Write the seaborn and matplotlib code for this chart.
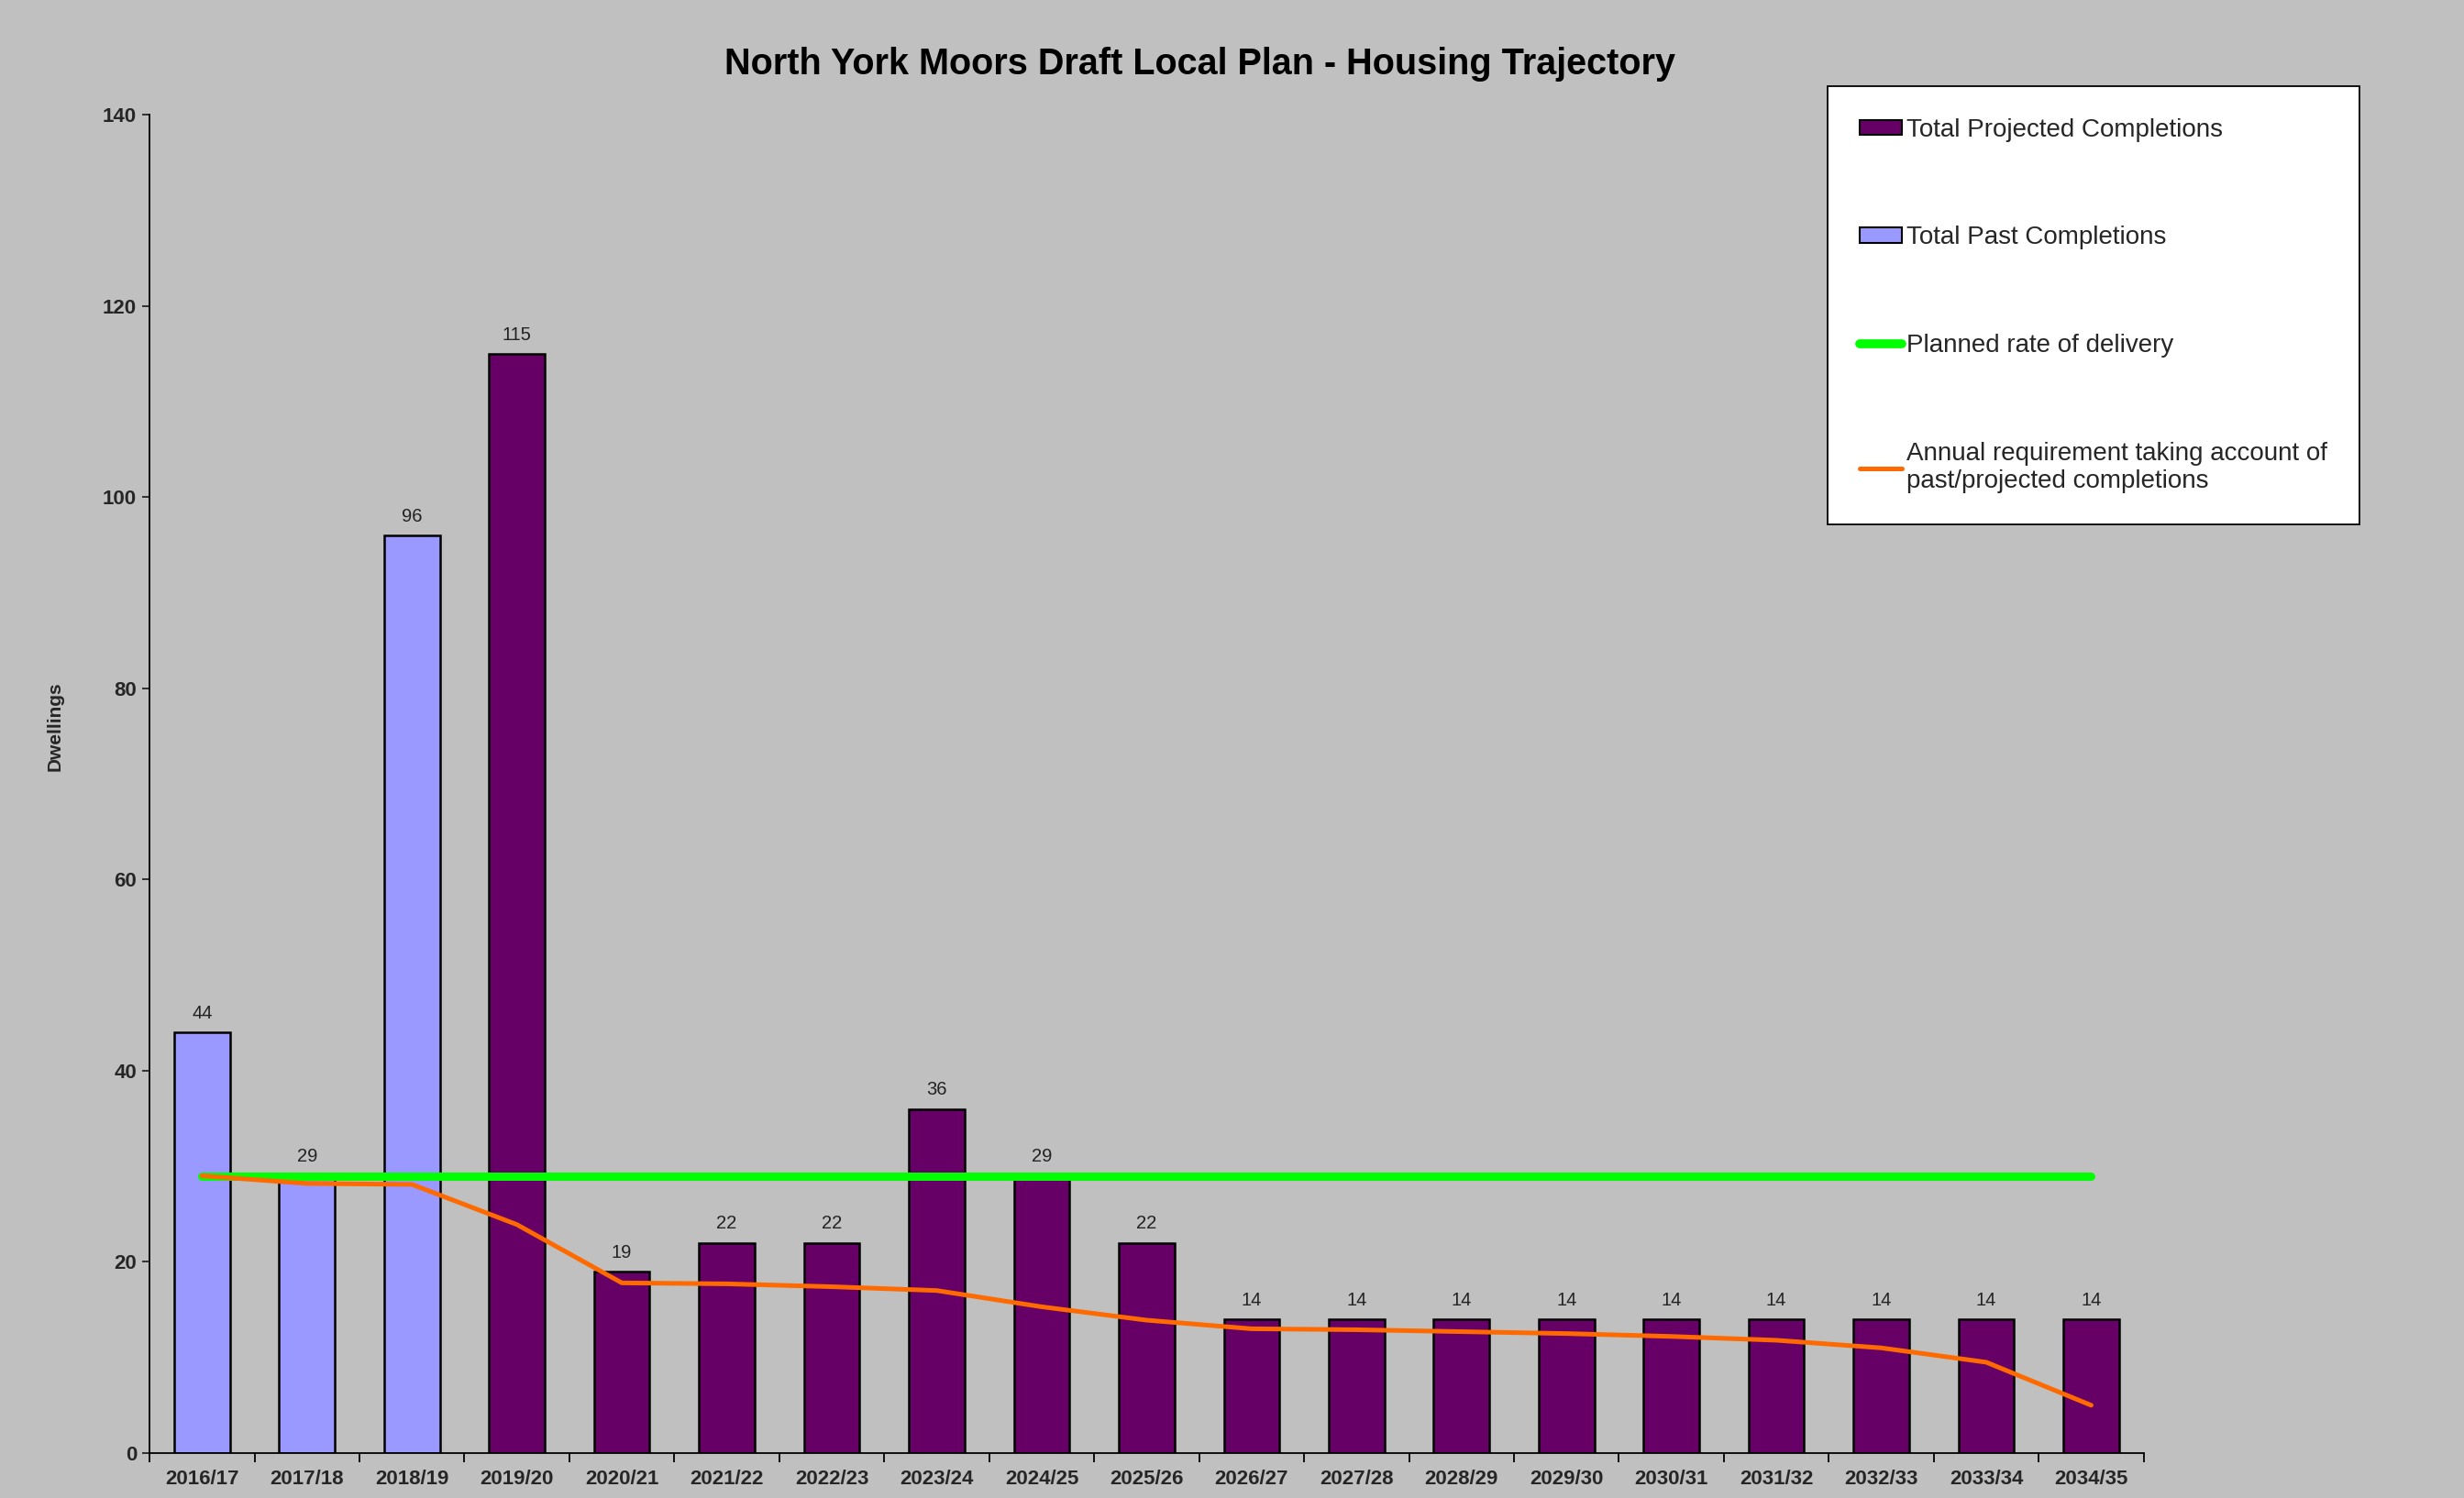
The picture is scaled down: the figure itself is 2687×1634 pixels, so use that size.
import numpy as np
import pandas as pd
import matplotlib
matplotlib.use("Agg")
import matplotlib.pyplot as plt
from matplotlib.patches import Patch
from matplotlib.lines import Line2D
import seaborn as sns

# ---- data ----
years = ["2016/17", "2017/18", "2018/19", "2019/20", "2020/21", "2021/22", "2022/23",
         "2023/24", "2024/25", "2025/26", "2026/27", "2027/28", "2028/29", "2029/30",
         "2030/31", "2031/32", "2032/33", "2033/34", "2034/35"]
completions = [44, 29, 96, 115, 19, 22, 22, 36, 29, 22, 14, 14, 14, 14, 14, 14, 14, 14, 14]
completion_type = ["Total Past Completions"] * 3 + ["Total Projected Completions"] * 16
planned_rate = [29] * 19
annual_requirement = [29.0, 28.2, 28.1, 23.9, 17.8, 17.7, 17.4, 17.0, 15.3, 13.9,
                      13.0, 12.9, 12.7, 12.5, 12.2, 11.8, 11.0, 9.5, 5.0]
yticks = [0, 20, 40, 60, 80, 100, 120, 140]

title = "North York Moors Draft Local Plan - Housing Trajectory"
ylabel = "Dwellings"
legend_labels = ["Total Projected Completions", "Total Past Completions",
                 "Planned rate of delivery",
                 "Annual requirement taking account of\npast/projected completions"]

# ---- style ----
BG = "#C0C0C0"
PAST = "#9999FF"
PROJ = "#660066"
GREEN = "#00FF00"
ORANGE = "#FF6A00"

sns.set_style("ticks")
plt.rcParams["font.family"] = ["Liberation Sans", "DejaVu Sans"]
NARROW = ["Liberation Sans Narrow", "Liberation Sans", "DejaVu Sans"]

df = pd.DataFrame({"year": years, "completions": completions, "type": completion_type,
                   "pos": np.arange(len(years)), "planned": planned_rate,
                   "requirement": annual_requirement})

fig = plt.figure(figsize=(26.87, 16.34), dpi=100)
fig.patch.set_facecolor(BG)
ax = fig.add_axes([0.0607, 0.030, 0.8093, 0.8935])
ax.set_facecolor(BG)

sns.barplot(data=df, x="year", y="completions", hue="type", dodge=False,
            palette={"Total Past Completions": PAST, "Total Projected Completions": PROJ},
            edgecolor="black", linewidth=1.8, width=0.53, ax=ax, legend=False,
            saturation=1)

for cont in ax.containers:
    labels = ax.bar_label(cont, fmt="%d", padding=8, fontsize=14.5, color="#222222")
    for t in labels:
        t.set_fontfamily(NARROW)

sns.lineplot(data=df, x="pos", y="planned", color=GREEN, linewidth=6.5, ax=ax,
             zorder=4)
sns.lineplot(data=df, x="pos", y="requirement", color=ORANGE, linewidth=3.6, ax=ax,
             zorder=5)

ax.set_xlim(-0.5, len(years) - 0.5)
ax.set_ylim(0, 140)
ax.set_yticks(yticks)
ax.set_xticks(np.arange(len(years)))
ax.set_xticklabels(years)
ax.set_xticks(np.arange(len(years) + 1) - 0.5, minor=True)
ax.tick_params(axis="x", which="major", length=0, pad=13, labelsize=16)
ax.tick_params(axis="x", which="minor", length=7, width=1.3, color="black")
ax.tick_params(axis="y", length=6, width=1.3, pad=4, labelsize=16)
for lab in ax.get_xticklabels() + ax.get_yticklabels():
    lab.set_fontweight("bold")
    lab.set_fontfamily(NARROW)
ax.set_xlabel("")
ax.set_ylabel("")
for s in ["top", "right"]:
    ax.spines[s].set_visible(False)
for s in ["left", "bottom"]:
    ax.spines[s].set_color("black")
    ax.spines[s].set_linewidth(1.3)

fig.text(0.487, 0.957, title, ha="center", va="center", fontsize=28.5,
         fontweight="bold", color="black")
fig.text(0.0223, 0.515, ylabel, ha="center", va="center", rotation=90,
         fontsize=15, fontweight="bold", family=NARROW)

handles = [Patch(facecolor=PROJ, edgecolor="black", linewidth=1.5),
           Patch(facecolor=PAST, edgecolor="black", linewidth=1.5),
           Line2D([], [], color=GREEN, linewidth=7),
           Line2D([], [], color=ORANGE, linewidth=3.6)]
leg = fig.legend(handles, legend_labels, loc="upper left",
                 bbox_to_anchor=(1993 / 2687, 1 - 94 / 1634),
                 fontsize=20, frameon=True, fancybox=False, framealpha=1,
                 edgecolor="black", facecolor="white", labelspacing=3.3,
                 handlelength=1.65, handleheight=0.55, handletextpad=0.2,
                 borderpad=1.25, borderaxespad=0)
leg.get_frame().set_linewidth(1.3)

fig.savefig("out.png", dpi=100, facecolor=BG)
